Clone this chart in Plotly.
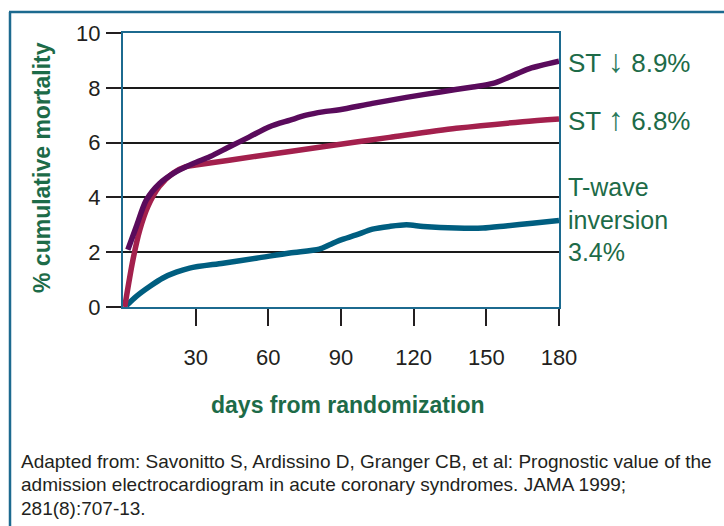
import plotly.graph_objects as go

# ---- data ----
st_dep_days = [2, 5.5, 9.6, 15, 22, 29, 36, 44, 52, 60.5, 69, 75.6, 82.5, 89.4, 103, 117, 131, 144.4, 152.7, 159.6, 167.8, 180]
st_dep_vals = [2.09, 2.94, 3.9, 4.5, 4.94, 5.24, 5.49, 5.85, 6.2, 6.58, 6.82, 7.0, 7.12, 7.2, 7.43, 7.65, 7.85, 8.03, 8.16, 8.4, 8.7, 8.97]

st_elev_days = [0.7, 4.1, 6.9, 10.3, 15, 20.6, 26, 30, 55, 82.5, 110, 137.6, 165, 180]
st_elev_vals = [0.0, 1.72, 2.8, 3.67, 4.4, 4.88, 5.12, 5.18, 5.5, 5.85, 6.19, 6.52, 6.76, 6.86]

twave_days = [1.4, 5.5, 11, 16.5, 22, 27.5, 41.3, 55, 68.8, 81, 85.3, 89.4, 96.3, 103, 110, 117, 124, 137.6, 148.6, 158, 169, 180]
twave_vals = [0.05, 0.39, 0.75, 1.06, 1.27, 1.42, 1.6, 1.78, 1.97, 2.11, 2.27, 2.43, 2.63, 2.84, 2.94, 3.0, 2.94, 2.88, 2.88, 2.96, 3.06, 3.16]

x_tick_vals = [30, 60, 90, 120, 150, 180]
x_tick_text = ["30", "60", "90", "120", "150", "180"]
y_tick_vals = [0, 2, 4, 6, 8, 10]
y_tick_text = ["0", "2", "4", "6", "8", "10"]

label_st_dep = ["ST", "\u2193", "8.9%"]
label_st_elev = ["ST", "\u2191", "6.8%"]
label_twave = "T-wave<br>inversion<br>3.4%"
x_title = "days from randomization"
y_title = "% cumulative mortality"
footer_lines = [
    "Adapted from: Savonitto S, Ardissino D, Granger CB, et al: Prognostic value of the",
    "admission electrocardiogram in acute coronary syndromes. JAMA 1999;",
    "281(8):707-13.",
]

# ---- styling ----
FONT = "Liberation Sans, Arial, Helvetica, sans-serif"
BLUE = "#1c6a8f"
GREEN = "#1d6b48"
ARROW_GREEN = "#2b7a5a"
DARK = "#231f20"
PURPLE = "#5a0b5c"
RED = "#a3204d"
TEAL = "#005e80"

W, H = 724, 526
L, R, T, B = 123, 559, 33, 307


def px(xp):
    return (xp - L) / (R - L)


def py(yp):
    return (B - yp) / (B - T)


fig = go.Figure()
for xs, ys, col, name in [
    (twave_days, twave_vals, TEAL, "T-wave inversion"),
    (st_elev_days, st_elev_vals, RED, "ST elevation"),
    (st_dep_days, st_dep_vals, PURPLE, "ST depression"),
]:
    fig.add_trace(go.Scatter(x=xs, y=ys, mode="lines", name=name,
                             line=dict(color=col, width=5.5, shape="spline", smoothing=0.8),
                             showlegend=False, hoverinfo="skip"))

fig.update_layout(
    width=W, height=H,
    margin=dict(l=L, r=W - R, t=T, b=H - B, pad=0),
    paper_bgcolor="white", plot_bgcolor="white",
    font=dict(family=FONT, color=DARK),
    xaxis=dict(range=[0, 180], tickvals=x_tick_vals, ticktext=x_tick_text,
               ticks="outside", ticklen=17, tickwidth=2, tickcolor=DARK,
               showgrid=False, zeroline=False, showline=True, linecolor=BLUE,
               linewidth=2, mirror=True, tickfont=dict(size=22, color=DARK),
               ticklabelstandoff=13, fixedrange=True),
    yaxis=dict(range=[0, 10], tickvals=y_tick_vals, ticktext=y_tick_text,
               ticks="outside", ticklen=15, tickwidth=2, tickcolor=DARK,
               showgrid=True, gridcolor="#1a1a1a", gridwidth=2, zeroline=False,
               showline=True, linecolor=BLUE, linewidth=2, mirror=True,
               tickfont=dict(size=22, color=DARK), ticklabelstandoff=1,
               fixedrange=True),
)

# outer frame lines (top and left)
fig.add_shape(type="line", xref="paper", yref="paper", x0=px(9), x1=px(725), y0=py(12), y1=py(12),
              line=dict(color=BLUE, width=2.5))
fig.add_shape(type="line", xref="paper", yref="paper", x0=px(10), x1=px(10), y0=py(12), y1=py(527),
              line=dict(color=BLUE, width=2.5))


def arrow_label(parts):
    return (f"{parts[0]} <span style='font-size:32px;color:{ARROW_GREEN}'>{parts[1]}</span> {parts[2]}")


ann = []
ann.append(dict(text=y_title, x=px(42), y=py(168), textangle=-90,
                font=dict(size=23, color=GREEN, family=FONT, weight="bold")))
ann.append(dict(text=x_title, x=px(347), y=py(405),
                font=dict(size=23, color=GREEN, family=FONT, weight="bold")))
ann.append(dict(text=arrow_label(label_st_dep), x=px(566), y=py(61), xanchor="left",
                font=dict(size=26, color=GREEN, family=FONT)))
ann.append(dict(text=arrow_label(label_st_elev), x=px(566), y=py(119), xanchor="left",
                font=dict(size=26, color=GREEN, family=FONT)))
ann.append(dict(text=label_twave, x=px(566), y=py(219), xanchor="left", align="left",
                font=dict(size=25, color=GREEN, family=FONT)))
for i, line in enumerate(footer_lines):
    ann.append(dict(text=line, x=px(19), y=py(461 + 23.5 * i), xanchor="left", align="left",
                    font=dict(size=19, color=DARK, family=FONT)))
for a in ann:
    a.update(xref="paper", yref="paper", showarrow=False)
    a.setdefault("xanchor", "center")
    a.setdefault("yanchor", "middle")
fig.update_layout(annotations=ann)

fig.write_html("out.html", config={"displayModeBar": False},
               post_script="document.body.style.margin='0px';document.body.style.overflow='hidden';")
